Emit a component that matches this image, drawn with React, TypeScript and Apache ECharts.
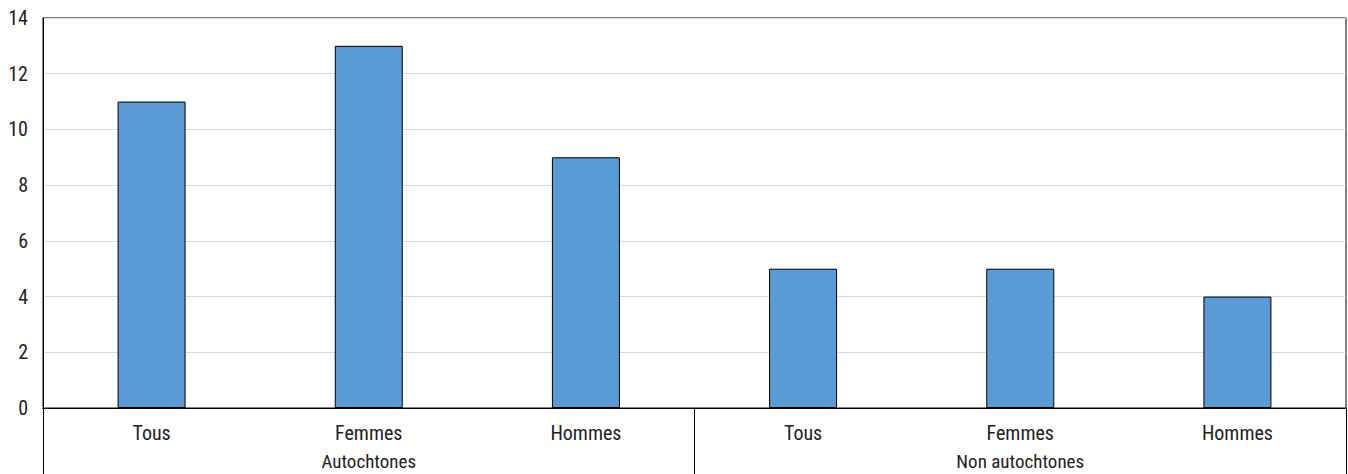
import React, { useEffect, useRef } from "react";
import * as echarts from "echarts";

const categories = ["Tous", "Femmes", "Hommes", "Tous", "Femmes", "Hommes"];
const groups = ["Autochtones", "Non autochtones"];
const values = [11, 13, 9, 5, 5, 4];
const yTicks = { min: 0, max: 14, interval: 2 };

const FONT = "'Roboto Condensed', 'Liberation Sans Narrow', Roboto, sans-serif";

export default function App() {
  const ref = useRef<HTMLDivElement>(null);
  useEffect(() => {
    if (!ref.current) return;
    const chart = echarts.init(ref.current, undefined, { renderer: "svg" });
    chart.setOption({
      animation: false,
      backgroundColor: "#ffffff",
      grid: {
        left: 43,
        right: 2,
        top: 18,
        bottom: 66,
        show: true,
        borderColor: "#000",
        borderWidth: 1,
        backgroundColor: "transparent",
      },
      xAxis: [
        {
          type: "category",
          data: categories,
          position: "bottom",
          axisLine: { show: true, lineStyle: { color: "#000", width: 1 } },
          axisTick: { show: false },
          axisLabel: { fontFamily: FONT, fontSize: 20, color: "#222", margin: 15 },
        },
        {
          type: "category",
          data: groups,
          position: "bottom",
          axisLine: { show: true, lineStyle: { color: "#000", width: 1 } },
          axisTick: { show: true, length: 66, lineStyle: { color: "#000", width: 1 } },
          axisLabel: {
            fontFamily: FONT,
            fontSize: 19,
            lineHeight: 19,
            color: "#222",
            margin: 44,
          },
        },
      ],
      yAxis: {
        type: "value",
        min: yTicks.min,
        max: yTicks.max,
        interval: yTicks.interval,
        axisLine: { show: true, lineStyle: { color: "#000", width: 1 } },
        axisTick: { show: false },
        splitLine: { show: true, lineStyle: { color: "#d9d9d9", width: 1 } },
        axisLabel: { fontFamily: FONT, fontSize: 20, color: "#222", margin: 15 },
      },
      series: [
        {
          type: "bar",
          xAxisIndex: 0,
          data: values,
          barWidth: 68,
          itemStyle: { color: "#5b9bd5", borderColor: "#000", borderWidth: 1 },
        },
      ],
    });
    return () => chart.dispose();
  }, []);
  return (
    <div
      ref={ref}
      style={{ position: "fixed", left: 0, top: 0, width: 1348, height: 474, background: "#fff" }}
    />
  );
}
